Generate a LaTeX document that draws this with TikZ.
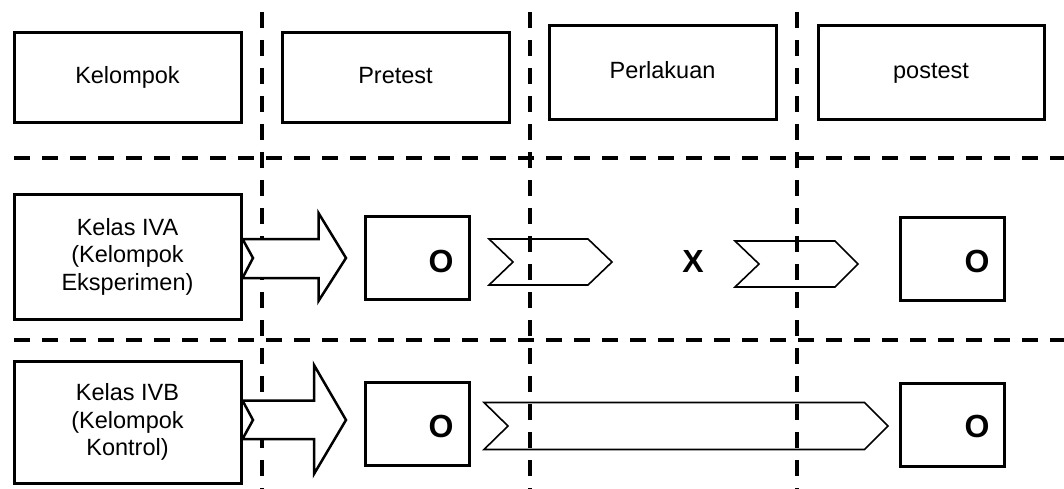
\documentclass[tikz,border=0pt]{standalone}
\usepackage{fontspec}
\setmainfont{Liberation Sans}
\begin{document}
\begin{tikzpicture}[x=1pt,y=-1pt,
  grid/.style={line width=3.5pt,dash pattern=on 16pt off 12pt},
  hbox/.style={draw,line width=3pt,fill=white,inner sep=0pt,align=center,font=\fontsize{23.5}{27.5}\selectfont},
  head/.style={hbox,text height=17pt,text depth=5pt},
  obox/.style={draw,line width=3pt,inner sep=0pt},
  bigtext/.style={font=\fontsize{32}{36}\selectfont\bfseries,inner sep=0pt},
  blockarrow/.style={draw,line width=2.5pt,fill=white,line join=miter},
  chev/.style={draw,line width=1.6pt,line join=miter}]
\useasboundingbox (0,0) rectangle (1064,489);
% grid lines
\coordinate (v1t) at (262,12); \coordinate (v1b) at (262,489);
\coordinate (v2t) at (530,12); \coordinate (v2b) at (530,489);
\coordinate (v3t) at (797,12); \coordinate (v3b) at (797,489);
\coordinate (h1l) at (14,158); \coordinate (h1r) at (1064,158);
\coordinate (h2l) at (14,340); \coordinate (h2r) at (1064,340);
\draw[grid] (v1t) -- (v1b);
\draw[grid] (v2t) -- (v2b);
\draw[grid] (v3t) -- (v3b);
\draw[grid] (h1l) -- (h1r);
\draw[grid] (h2l) -- (h2r);
% header boxes
\node[head,minimum width=227pt,minimum height=90pt] (kel) at (127.5,78) {Kelompok};
\node[head,minimum width=227pt,minimum height=90pt] (pre) at (395.5,78) {Pretest};
\node[head,minimum width=227pt,minimum height=94pt] (per) at (662.5,73) {Perlakuan};
\node[head,minimum width=226pt,minimum height=94pt] (pos) at (931,73) {postest};
% group boxes
\node[hbox,minimum width=227pt,minimum height=125pt] (ka) at (127.5,256.5) {Kelas IVA\\(Kelompok\\Eksperimen)};
\node[hbox,minimum width=227pt,minimum height=122pt] (kb) at (127.5,422) {Kelas IVB\\(Kelompok\\Kontrol)};
% O boxes
\node[obox,minimum width=104pt,minimum height=83pt] (o1) at (417,258) {};
\node[obox,minimum width=104pt,minimum height=83pt] (o2) at (952,259) {};
\node[obox,minimum width=104pt,minimum height=83pt] (o3) at (417,424) {};
\node[obox,minimum width=104pt,minimum height=83pt] (o4) at (952,425) {};
\node[bigtext] (o1t) at (441,261) {O};
\node[bigtext] (o2t) at (977,261) {O};
\node[bigtext] (o3t) at (441,426.5) {O};
\node[bigtext] (o4t) at (977,426.5) {O};
\node[bigtext] (x) at (693,261) {X};
% block arrows
\draw[blockarrow] (ka.east |- 0,239) -- (318.5,239) -- (318.5,213) -- (346,258) -- (318.5,301) -- (318.5,278) -- (ka.east |- 0,278) -- (253,258) -- cycle;
\draw[blockarrow] (kb.east |- 0,400.5) -- (314,400.5) -- (314,365) -- (346,420) -- (314,474) -- (314,439) -- (kb.east |- 0,439) -- (253,420) -- cycle;
% chevrons
\draw[chev] (489,239) -- (588,239) -- (612,262) -- (588,285) -- (489,285) -- (513,262) -- cycle;
\draw[chev] (735,241) -- (835,241) -- (858,264) -- (835,287) -- (735,287) -- (759,264) -- cycle;
\draw[chev] (484,402.5) -- (864.5,402.5) -- (888,426) -- (864.5,449.5) -- (484,449.5) -- (508,426) -- cycle;
\end{tikzpicture}
\end{document}
